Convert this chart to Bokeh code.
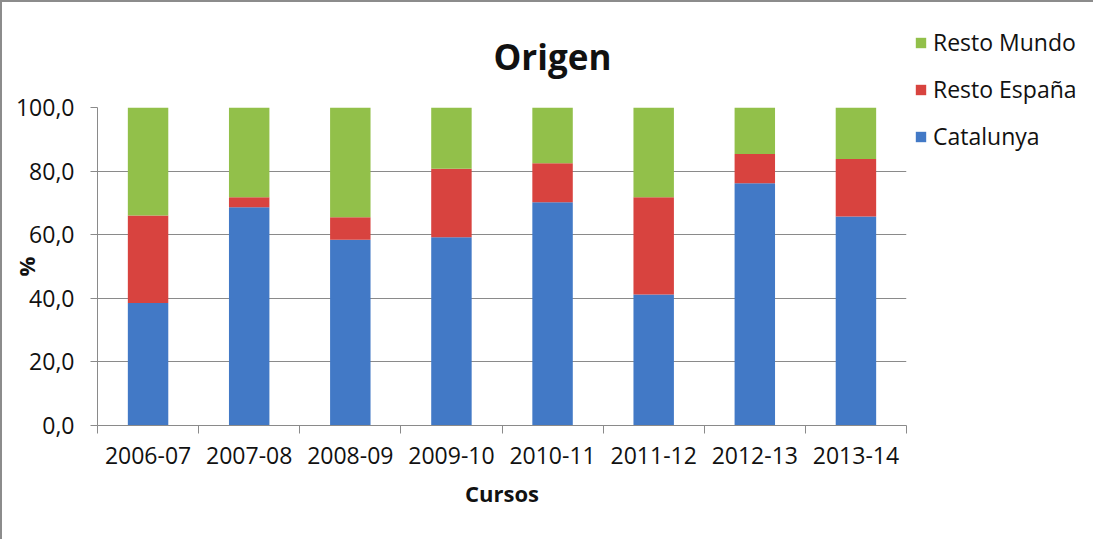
from bokeh.plotting import figure
from bokeh.models import ColumnDataSource, Range1d, FixedTicker, Legend, LegendItem
from bokeh.embed import file_html
from bokeh.resources import INLINE

# ---- data ----
cursos = ["2006-07", "2007-08", "2008-09", "2009-10", "2010-11", "2011-12", "2012-13", "2013-14"]
catalunya = [38.5, 68.6, 58.4, 59.2, 70.2, 41.2, 76.2, 65.7]
resto_espana = [27.5, 3.2, 7.1, 21.5, 12.3, 30.6, 9.2, 18.1]
resto_mundo = [34.0, 28.2, 34.5, 19.3, 17.5, 28.2, 14.6, 16.2]
series = ["Catalunya", "Resto España", "Resto Mundo"]
colors = ["#4279c6", "#d8433f", "#92c04a"]
y_ticks = [0, 20, 40, 60, 80, 100]
y_tick_labels = ["0,0", "20,0", "40,0", "60,0", "80,0", "100,0"]

FONT = "Open Sans"

centers = [i + 0.5 for i in range(len(cursos))]
source = ColumnDataSource(dict(x=centers, cursos=cursos, Catalunya=catalunya,
                               **{"Resto España": resto_espana, "Resto Mundo": resto_mundo}))

p = figure(frame_width=809, frame_height=318, output_backend="svg", toolbar_location=None,
           x_range=Range1d(0, len(cursos)), y_range=Range1d(0, 100),
           min_border_left=95, min_border_right=0, min_border_top=105, min_border_bottom=114,
           title="Origen",
           styles={"border-top": "2px solid #8c8c8c", "border-left": "2px solid #8c8c8c"})

renderers = p.vbar_stack(series, x="x", width=0.4, color=colors, source=source, line_color=None)

p.background_fill_color = "white"
p.border_fill_color = "white"
p.outline_line_color = None

# title
p.title.text_font = FONT
p.title.text_font_style = "bold"
p.title.text_font_size = "35px"
p.title.text_color = "#111111"
p.title.align = "left"
p.title.offset = 396
p.title.standoff = 56

# x axis
xa = p.xaxis[0]
xa.ticker = FixedTicker(ticks=centers, minor_ticks=list(range(len(cursos) + 1)))
xa.major_label_overrides = {c: lab for c, lab in zip(centers, cursos)}
xa.major_tick_out = 0
xa.major_tick_in = 0
xa.minor_tick_out = 8
xa.minor_tick_in = 0
xa.minor_tick_line_color = "#8a8a8a"
xa.axis_line_color = "#8a8a8a"
xa.major_label_text_font = FONT
xa.major_label_text_font_size = "23px"
xa.major_label_text_color = "#111111"
xa.major_label_standoff = 13
xa.axis_label = "Cursos"
xa.axis_label_text_font = FONT
xa.axis_label_text_font_size = "22px"
xa.axis_label_text_font_style = "bold"
xa.axis_label_text_color = "#111111"
xa.axis_label_standoff = 11

# y axis
ya = p.yaxis[0]
ya.ticker = FixedTicker(ticks=y_ticks, minor_ticks=[])
ya.major_label_overrides = {t: lab for t, lab in zip(y_ticks, y_tick_labels)}
ya.major_tick_out = 7
ya.major_tick_in = 0
ya.major_tick_line_color = "#8a8a8a"
ya.axis_line_color = "#8a8a8a"
ya.major_label_text_font = FONT
ya.major_label_text_font_size = "23px"
ya.major_label_text_color = "#111111"
ya.major_label_standoff = 16
ya.axis_label = "%"
ya.axis_label_text_font = FONT
ya.axis_label_text_font_size = "22px"
ya.axis_label_text_font_style = "bold"
ya.axis_label_text_color = "#111111"
ya.axis_label_standoff = -28

p.xgrid.visible = False
p.ygrid.ticker = FixedTicker(ticks=y_ticks)
p.ygrid.grid_line_color = "#8a8a8a"
p.ygrid.grid_line_width = 1

# legend (right side panel, shifted upward)
items = [LegendItem(label=s, renderers=[r]) for s, r in zip(series, renderers)][::-1]
legend = Legend(items=items, location=(8, 273), orientation="vertical",
                glyph_width=13, glyph_height=13, label_height=31, spacing=15,
                label_standoff=6, padding=0, margin=0,
                label_text_font=FONT, label_text_font_size="23px", label_text_color="#111111",
                border_line_color=None, background_fill_alpha=0)
p.add_layout(legend, "right")

open("out.html", "w").write(file_html(p, INLINE))
